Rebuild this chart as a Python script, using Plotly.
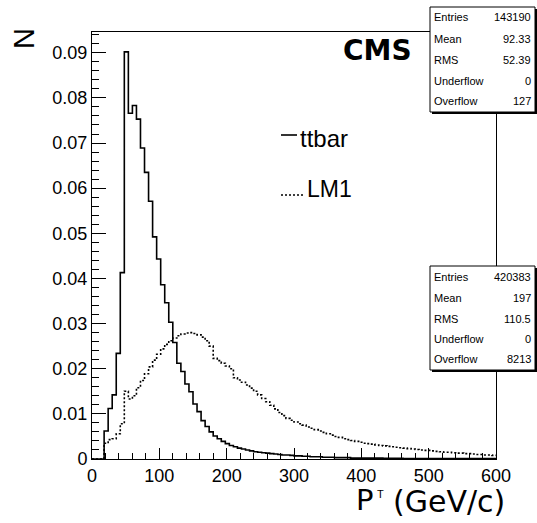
import numpy as np
import plotly.graph_objects as go

# Histogram binning: 100 bins of 6 GeV/c between 0 and 600
bin_edges = np.linspace(0, 600, 101)

# Normalised transverse-momentum distributions (one value per bin)
ttbar = [
    0, 0, 0, 0.0062, 0.0112, 0.0142, 0.0234, 0.0413, 0.0902, 0.0766,
    0.0783, 0.0753, 0.0689, 0.0635, 0.0571, 0.0492, 0.0443, 0.0386, 0.0346, 0.0303,
    0.0258, 0.0212, 0.0194, 0.0166, 0.0149, 0.0122, 0.0105, 0.0085, 0.0072, 0.0060,
    0.0051, 0.0045, 0.0039, 0.0034, 0.0030, 0.0027, 0.0024, 0.0022, 0.0020, 0.0018,
    0.0016, 0.0015, 0.0014, 0.0013, 0.0012, 0.0011, 0.0010, 0.0009, 0.0009, 0.0008,
    0.0007, 0.0007, 0.0006, 0.0006, 0.0005, 0.0005, 0.0005, 0.0004, 0.0004, 0.0004,
    0.0003, 0.0003, 0.0003, 0.0003, 0.0002, 0.0002, 0.0002, 0.0002, 0.0002, 0.0002,
    0.0002, 0.0002, 0.00015, 0.00015, 0.00015, 0.00015, 0.00015, 0.00012, 0.00012, 0.00012,
    0.0001, 0.0001, 0.0001, 0.0001, 0.0001, 0.0001, 0.0001, 0.0001, 0.0001, 0.0001,
    0.00008, 0.00008, 0.00008, 0.00008, 0.00008, 0.00008, 0.00008, 0.00008, 0.00008, 0.00008,
]

lm1 = [
    0, 0, 0, 0.0035, 0.0043, 0.0045, 0.0056, 0.0078, 0.0150, 0.0133,
    0.0140, 0.0158, 0.0174, 0.0189, 0.0204, 0.0219, 0.0232, 0.0244, 0.0254, 0.0262,
    0.0268, 0.0273, 0.0277, 0.0279, 0.0280, 0.0278, 0.0275, 0.0270, 0.0262, 0.0250,
    0.0223, 0.0218, 0.0212, 0.0206, 0.0200, 0.0180, 0.0175, 0.0170, 0.0164, 0.0157,
    0.0150, 0.0142, 0.0134, 0.0127, 0.0119, 0.0111, 0.0103, 0.0096, 0.0090, 0.0086,
    0.0082, 0.0078, 0.0075, 0.0071, 0.0068, 0.0065, 0.0062, 0.0059, 0.0056, 0.0053,
    0.0050, 0.0048, 0.0045, 0.0043, 0.0041, 0.0039, 0.0037, 0.0035, 0.0034, 0.0033,
    0.0031, 0.0030, 0.0029, 0.0028, 0.0027, 0.0026, 0.0025, 0.0024, 0.0023, 0.0022,
    0.0021, 0.0020, 0.0019, 0.0019, 0.0018, 0.0017, 0.0016, 0.0015, 0.0015, 0.0014,
    0.0013, 0.0013, 0.0012, 0.0012, 0.0011, 0.0010, 0.0010, 0.0009, 0.0009, 0.0008,
]

# Statistics boxes
stat_labels = ["Entries", "Mean", "RMS", "Underflow", "Overflow"]
ttbar_stats = ["143190", "92.33", "52.39", "0", "127"]
lm1_stats = ["420383", "197", "110.5", "0", "8213"]

x_tick_vals = [0, 100, 200, 300, 400, 500, 600]
y_tick_vals = [0, 0.01, 0.02, 0.03, 0.04, 0.05, 0.06, 0.07, 0.08, 0.09]
y_tick_text = ["0", "0.01", "0.02", "0.03", "0.04", "0.05", "0.06", "0.07", "0.08", "0.09"]

W, H = 537, 523
ML, MR, MT, MB = 92, 41, 32, 64
PW, PH = W - ML - MR, H - MT - MB


def px_x(p):
    return (p - ML) / PW


def px_y(p):
    return (H - MB - p) / PH


def step_xy(values):
    xs = list(bin_edges[:-1]) + [bin_edges[-1]]
    ys = list(values) + [values[-1]]
    return xs, ys


FONT = "Liberation Sans, Arial, Helvetica, sans-serif"
WIDE = "DejaVu Sans, sans-serif"

fig = go.Figure()
x1, y1 = step_xy(ttbar)
fig.add_trace(go.Scatter(x=x1, y=y1, mode="lines", line_shape="hv",
                         line=dict(color="black", width=1.6), name="ttbar",
                         showlegend=False))
x2, y2 = step_xy(lm1)
fig.add_trace(go.Scatter(x=x2, y=y2, mode="lines", line_shape="hv",
                         line=dict(color="black", width=1.6, dash="2px,2px"),
                         name="LM1", showlegend=False))

shapes = []
annotations = []

# Legend entries
shapes.append(dict(type="line", xref="paper", yref="paper",
                   x0=px_x(281), x1=px_x(297), y0=px_y(135), y1=px_y(135),
                   line=dict(color="black", width=1.6)))
shapes.append(dict(type="line", xref="paper", yref="paper",
                   x0=px_x(281), x1=px_x(303), y0=px_y(195), y1=px_y(195),
                   line=dict(color="black", width=1.6, dash="2px,2px")))
annotations.append(dict(text="ttbar", xref="paper", yref="paper",
                        x=px_x(298), y=px_y(138), xanchor="left", yanchor="middle",
                        showarrow=False, font=dict(family=FONT, size=24, color="black")))
annotations.append(dict(text="LM1", xref="paper", yref="paper",
                        x=px_x(305), y=px_y(189), xanchor="left", yanchor="middle",
                        showarrow=False, font=dict(family=FONT, size=23, color="black")))

# CMS label
annotations.append(dict(text="<b>CMS</b>", xref="paper", yref="paper",
                        x=px_x(377), y=px_y(50), xanchor="center", yanchor="middle",
                        showarrow=False,
                        font=dict(family=WIDE, size=28, color="black")))

# Axis titles
annotations.append(dict(text="N", xref="paper", yref="paper",
                        x=px_x(24), y=px_y(39), xanchor="center", yanchor="middle",
                        textangle=-90, showarrow=False,
                        font=dict(family=FONT, size=29, color="black")))
annotations.append(dict(text="P", xref="paper", yref="paper",
                        x=px_x(354), y=px_y(500), xanchor="left", yanchor="middle",
                        showarrow=False, font=dict(family=WIDE, size=29, color="black")))
annotations.append(dict(text="T", xref="paper", yref="paper",
                        x=px_x(375), y=px_y(494), xanchor="left", yanchor="middle",
                        showarrow=False, font=dict(family=FONT, size=11, color="black")))
annotations.append(dict(text="(GeV/c)", xref="paper", yref="paper",
                        x=px_x(507), y=px_y(501), xanchor="right", yanchor="middle",
                        showarrow=False, font=dict(family=WIDE, size=30, color="black")))


def stats_box(top, bottom, values, row_ys):
    left, right = 430, 535
    shapes.append(dict(type="rect", xref="paper", yref="paper",
                       x0=px_x(left + 2), x1=px_x(right + 2),
                       y0=px_y(bottom + 2), y1=px_y(top + 2),
                       fillcolor="black", line=dict(width=0), layer="above"))
    shapes.append(dict(type="rect", xref="paper", yref="paper",
                       x0=px_x(left), x1=px_x(right), y0=px_y(bottom), y1=px_y(top),
                       fillcolor="white", line=dict(color="black", width=1), layer="above"))
    for lab, val, ry in zip(stat_labels, values, row_ys):
        annotations.append(dict(text=lab, xref="paper", yref="paper",
                                x=px_x(432), y=px_y(ry), xanchor="left", yanchor="middle",
                                showarrow=False,
                                font=dict(family=FONT, size=11, color="black")))
        annotations.append(dict(text=val, xref="paper", yref="paper",
                                x=px_x(533), y=px_y(ry), xanchor="right", yanchor="middle",
                                showarrow=False,
                                font=dict(family=FONT, size=11, color="black")))


stats_box(7, 112, ttbar_stats, [17, 38.5, 60, 80.5, 101])
stats_box(266, 370, lm1_stats, [277, 297.5, 318.5, 339, 359])

fig.update_layout(
    width=W, height=H,
    margin=dict(l=ML, r=MR, t=MT, b=MB, pad=0),
    paper_bgcolor="white", plot_bgcolor="white",
    showlegend=False,
    shapes=shapes, annotations=annotations,
    font=dict(family=FONT, color="black"),
    xaxis=dict(range=[0, 600], tickmode="array", tickvals=x_tick_vals,
               ticks="inside", ticklen=11, tickwidth=1, tickcolor="black",
               showline=True, linecolor="black", linewidth=1, mirror=True,
               showgrid=False, zeroline=False, ticklabelstandoff=0,
               tickfont=dict(family=FONT, size=18, color="black"),
               minor=dict(dtick=20, ticks="inside", ticklen=6, tickwidth=1,
                          tickcolor="black", showgrid=False)),
    yaxis=dict(range=[0, 0.0946], tickmode="array", tickvals=y_tick_vals,
               ticktext=y_tick_text,
               ticks="inside", ticklen=14, tickwidth=1, tickcolor="black",
               showline=True, linecolor="black", linewidth=1, mirror=True,
               showgrid=False, zeroline=False,
               tickfont=dict(family=FONT, size=18, color="black"),
               minor=dict(dtick=0.002, ticks="inside", ticklen=7, tickwidth=1,
                          tickcolor="black", showgrid=False)),
)

fig.write_html("out.html")
